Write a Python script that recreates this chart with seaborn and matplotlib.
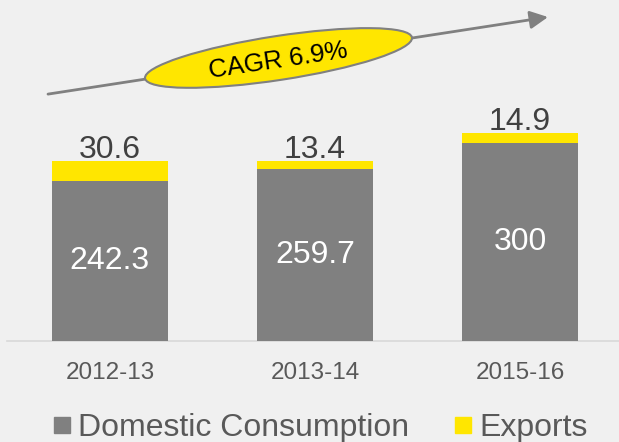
import matplotlib
matplotlib.use('Agg')
import matplotlib.pyplot as plt
import matplotlib.transforms as mtransforms
from matplotlib.patches import Ellipse
from matplotlib.lines import Line2D
import seaborn as sns
import pandas as pd

years = ['2012-13', '2013-14', '2015-16']
domestic = [242.3, 259.7, 300]
exports = [30.6, 13.4, 14.9]
domestic_labels = ['242.3', '259.7', '300']
export_labels = ['30.6', '13.4', '14.9']
series_names = ['Domestic Consumption', 'Exports']
cagr_text = 'CAGR 6.9%'

GRAY = '#808080'
YELLOW = '#ffe600'
BG = '#f0f0f0'

plt.rcParams['font.family'] = ['Liberation Sans', 'DejaVu Sans']

df = pd.DataFrame({'year': years, 'domestic': domestic, 'exports': exports})
df['total'] = df['domestic'] + df['exports']

fig = plt.figure(figsize=(6.19, 4.42), dpi=100, facecolor=BG)
ax = fig.add_axes([7 / 619, 101 / 442, 612 / 619, 341 / 442])
ax.set_facecolor(BG)

sns.barplot(data=df, x='year', y='total', color=YELLOW, width=0.566,
            saturation=1, ax=ax, zorder=2)
sns.barplot(data=df, x='year', y='domestic', color=GRAY, width=0.566,
            saturation=1, ax=ax, zorder=3)

ax.set_xlim(-0.502, 2.483)
ax.set_ylim(0, 516)

# labels
for i, bar in enumerate(ax.containers[1]):
    x = bar.get_x() + bar.get_width() / 2
    h = bar.get_height()
    ax.text(x, h / 2, domestic_labels[i], ha='center', va='center',
            color='white', fontsize=23, zorder=5)
for i, bar in enumerate(ax.containers[0]):
    x = bar.get_x() + bar.get_width() / 2
    h = bar.get_height()
    ax.annotate(export_labels[i], (x, h), xytext=(0, 2),
                textcoords='offset points', ha='center', va='baseline',
                color='#404040', fontsize=23, zorder=5)

for s in ['top', 'left', 'right']:
    ax.spines[s].set_visible(False)
ax.spines['bottom'].set_color('#d9d9d9')
ax.spines['bottom'].set_linewidth(1.2)
ax.set_yticks([])
ax.set_xlabel('')
ax.set_ylabel('')
ax.tick_params(axis='x', length=0, pad=15, labelsize=17.5, labelcolor='#595959')

# CAGR arrow
ax.annotate('', xy=(0.884, 0.950), xytext=(0.067, 0.724),
            xycoords='axes fraction', textcoords='axes fraction',
            arrowprops=dict(arrowstyle='-|>', color=GRAY, lw=2,
                            mutation_scale=27, shrinkA=0, shrinkB=0),
            zorder=6)
trans = fig.dpi_scale_trans + mtransforms.ScaledTranslation(0.4436, 0.830, ax.transAxes)
ell = Ellipse((0, 0), width=2.70, height=0.44, angle=8.7, transform=trans,
              facecolor=YELLOW, edgecolor=GRAY, lw=1.5, zorder=7, clip_on=False)
ax.add_patch(ell)
ax.text(0, -0.03, cagr_text, transform=trans, rotation=8.5, rotation_mode='anchor',
        ha='center', va='center', fontsize=18.5, color='black', zorder=8)

handles = [Line2D([], [], marker='s', linestyle='', markersize=12.2, color=GRAY),
           Line2D([], [], marker='s', linestyle='', markersize=12.2, color=YELLOW)]
fig.legend(handles, series_names, loc='center', bbox_to_anchor=(320 / 619, 14 / 442),
           ncol=2, frameon=False, fontsize=23, handlelength=0.6, handletextpad=0.22,
           columnspacing=1.38, labelcolor='#595959', borderaxespad=0, borderpad=0)

fig.savefig('out.png', dpi=100, facecolor=BG)
